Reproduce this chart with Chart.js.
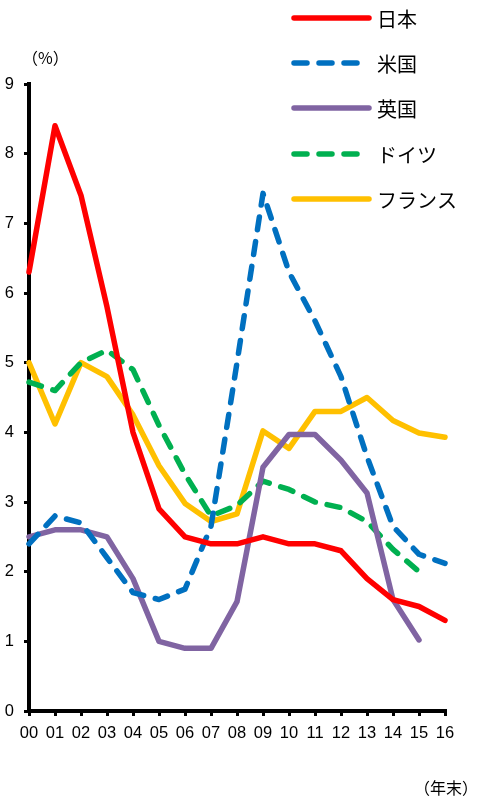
<!DOCTYPE html>
<html>
<head>
<meta charset="utf-8">
<script src="https://cdn.jsdelivr.net/npm/chart.js@4"></script>
<style>
html,body{margin:0;padding:0;background:#fff;}
#wrap{position:relative;width:479px;height:799px;}
</style>
</head>
<body>
<div id="wrap"><canvas id="c" width="479" height="799"></canvas></div>
<script>
const years = ['00','01','02','03','04','05','06','07','08','09','10','11','12','13','14','15','16'];
const yTicks = [0,1,2,3,4,5,6,7,8,9];
const seriesNames = ['日本','米国','英国','ドイツ','フランス'];
const japan   = [6.3,8.4,7.4,5.8,4.0,2.9,2.5,2.4,2.4,2.5,2.4,2.4,2.3,1.9,1.6,1.5,1.3];
const usa     = [2.4,2.8,2.7,2.2,1.7,1.6,1.75,2.65,5.0,7.43,6.3,5.6,4.8,3.65,2.65,2.25,2.12];
const uk      = [2.5,2.6,2.6,2.5,1.9,1.0,0.9,0.9,1.57,3.5,3.97,3.97,3.6,3.13,1.6,1.02,null];
const germany = [4.72,4.6,5.0,5.18,4.9,4.1,3.4,2.8,2.95,3.3,3.18,3.0,2.92,2.72,2.32,2.0,null];
const france  = [5.0,4.12,5.0,4.8,4.25,3.52,2.98,2.72,2.83,4.02,3.77,4.3,4.3,4.5,4.17,3.99,3.93];
const colors = ['#FF0000','#0070C0','#8064A2','#00B050','#FFC000'];
const dashes = [[],[13,12],[],[13,12],[]];
const values = [japan, usa, uk, germany, france];

const FONT = "'Liberation Sans', Arial, sans-serif";
const JFONT = "'Noto Sans CJK JP', sans-serif";

const legendPlugin = {
  id: 'customLegend',
  afterDraw(chart) {
    const ctx = chart.ctx;
    ctx.save();
    const rows = [18, 63, 108, 154, 199];
    seriesNames.forEach((name, i) => {
      const y = rows[i];
      ctx.strokeStyle = colors[i];
      ctx.lineWidth = 5.5;
      ctx.lineCap = 'round';
      ctx.setLineDash(dashes[i]);
      ctx.beginPath();
      ctx.moveTo(294, y);
      ctx.lineTo(369, y);
      ctx.stroke();
      ctx.setLineDash([]);
      ctx.fillStyle = '#000';
      ctx.font = "20px " + JFONT;
      ctx.textBaseline = 'middle';
      ctx.textAlign = 'left';
      ctx.fillText(name, 377, y + 1);
    });
    ctx.font = "16px " + JFONT;
    ctx.textAlign = 'left';
    ctx.textBaseline = 'middle';
    ctx.fillText('（%）', 22, 58);
    ctx.fillText('（年末）', 414, 788);
    ctx.restore();
  }
};

new Chart(document.getElementById('c'), {
  type: 'line',
  data: {
    labels: years,
    datasets: values.map((v, i) => ({
      label: seriesNames[i],
      data: v,
      borderColor: colors[i],
      backgroundColor: colors[i],
      borderWidth: 5.5,
      borderDash: dashes[i],
      borderCapStyle: 'round',
      borderJoinStyle: 'round',
      pointRadius: 0,
      tension: 0,
      spanGaps: false,
      clip: false
    }))
  },
  options: {
    responsive: false,
    animation: false,
    devicePixelRatio: 1,
    layout: { padding: { left: 0, right: 34, top: 84, bottom: 0 } },
    plugins: { legend: { display: false }, tooltip: { enabled: false } },
    scales: {
      x: {
        offset: false,
        grid: { display: true, drawOnChartArea: false, drawTicks: true, tickLength: 5, tickWidth: 3, tickColor: '#000', lineWidth: 3, color: '#000' },
        border: { display: true, color: '#000', width: 4 },
        ticks: { color: '#000', font: { family: FONT, size: 16.5 }, padding: 8, maxRotation: 0, autoSkip: false },
        afterFit(s) { s.height = 88; }
      },
      y: {
        min: 0, max: 9,
        afterBuildTicks(s) { s.ticks = yTicks.map(v => ({ value: v })); },
        grid: { display: true, drawOnChartArea: false, drawTicks: true, tickLength: 5, tickWidth: 3, tickColor: '#000', lineWidth: 3, color: '#000' },
        border: { display: true, color: '#000', width: 4 },
        ticks: { color: '#000', font: { family: FONT, size: 16.5 }, padding: 10 },
        afterFit(s) { s.width = 29; }
      }
    }
  },
  plugins: [legendPlugin]
});
</script>
</body>
</html>
